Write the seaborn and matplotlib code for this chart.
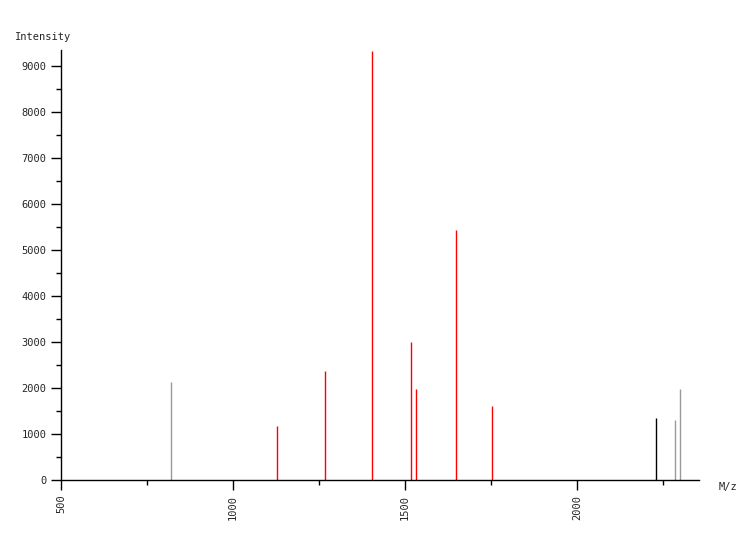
import matplotlib
matplotlib.use("Agg")
import matplotlib.pyplot as plt
import seaborn as sns
from matplotlib.ticker import MultipleLocator

# peak data
mz = [820, 1128, 1267, 1404, 1517, 1532, 1648, 1753, 2230, 2285, 2299]
intensity = [2130, 1174, 2370, 9326, 3000, 1978, 5435, 1609, 1348, 1304, 1978]
colors = ['#999999', 'red', 'red', 'red', 'red', 'red', 'red', 'red', 'black', '#999999', '#999999']

sns.set_style("ticks")
plt.rcParams['font.family'] = ['DejaVu Sans Mono']

fig = plt.figure(figsize=(7.5, 5.4), dpi=100)
ax = fig.add_axes([61 / 750, 60 / 540, 638 / 750, 430 / 540])

ax.vlines(mz, 0, intensity, colors=colors, linewidth=1)

ax.set_xlim(500, 2355)
ax.set_ylim(0, 9350)
ax.xaxis.set_major_locator(MultipleLocator(500))
ax.xaxis.set_minor_locator(MultipleLocator(250))
ax.yaxis.set_major_locator(MultipleLocator(1000))
ax.yaxis.set_minor_locator(MultipleLocator(500))
ax.tick_params(axis='both', which='major', length=7, width=1, color='black', labelsize=7.5)
ax.tick_params(axis='both', which='minor', length=3.6, width=1, color='black')
ax.tick_params(axis='x', labelrotation=90)
sns.despine(ax=ax)
for s in ['left', 'bottom']:
    ax.spines[s].set_color('black')
    ax.spines[s].set_linewidth(1)

fig.text(15 / 750, 1 - 37 / 540, 'Intensity', fontsize=7.5, va='center', ha='left')
fig.text(719 / 750, 1 - 487 / 540, 'M/z', fontsize=7.5, va='center', ha='left')

fig.savefig('out.png', dpi=100)
